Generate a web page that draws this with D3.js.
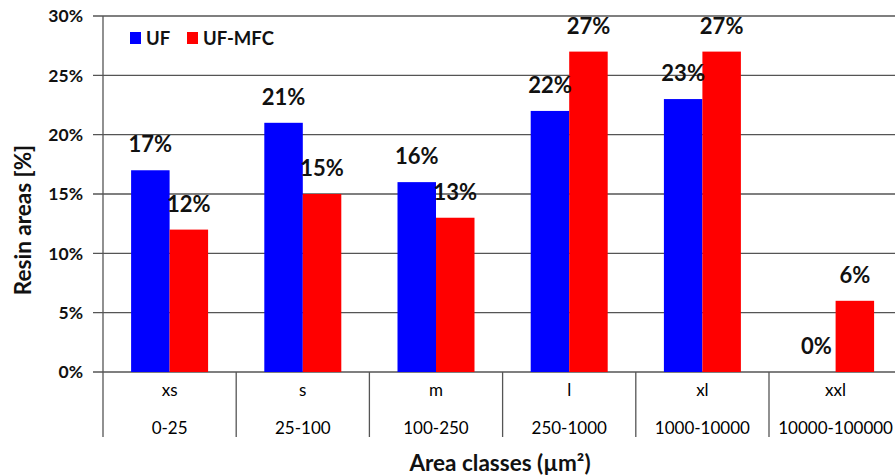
<!DOCTYPE html>
<html>
<head>
<meta charset="utf-8">
<script src="https://cdn.jsdelivr.net/npm/d3@7"></script>
<style>
  html, body { margin: 0; padding: 0; background: #fff; }
  svg { display: block; font-family: Lato, "Open Sans", sans-serif; }
</style>
</head>
<body>
<svg id="chart" width="895" height="476"></svg>
<script>
// Resin area distribution by area class
const classes = ["xs", "s", "m", "l", "xl", "xxl"];
const ranges = ["0-25", "25-100", "100-250", "250-1000", "1000-10000", "10000-100000"];
const seriesNames = ["UF", "UF-MFC"];
const ufValues = [17, 21, 16, 22, 23, 0];
const ufMfcValues = [12, 15, 13, 27, 27, 6];
const yTicks = [0, 5, 10, 15, 20, 25, 30];
const colors = ["#0000ff", "#ff0000"];

const svg = d3.select("#chart");
const plotLeft = 103, plotTop = 16, plotBottom = 372, bandW = 133.2;

const x = d3.scaleBand().domain(classes).range([plotLeft, plotLeft + bandW * classes.length]).paddingInner(0).paddingOuter(0);
const xs = d3.scaleBand().domain(seriesNames).range([0, bandW]).paddingInner(0).paddingOuter(0.73);
const y = d3.scaleLinear().domain([0, 30]).range([plotBottom, plotTop]);

const lineColor = "#555";
const textColor = "#111";

// horizontal gridlines with tick stubs
svg.append("g").selectAll("line").data(yTicks).join("line")
  .attr("x1", plotLeft - 10).attr("x2", 900)
  .attr("y1", d => y(d)).attr("y2", d => y(d))
  .attr("stroke", lineColor).attr("stroke-width", 1.3);

// y tick labels
svg.append("g").selectAll("text").data(yTicks).join("text")
  .attr("x", 83).attr("y", d => y(d))
  .attr("dy", "0.36em")
  .attr("text-anchor", "end")
  .attr("font-weight", "bold").attr("font-size", 17.5).attr("fill", textColor)
  .text(d => d + "%");

// bars
const series = [ufValues, ufMfcValues];
series.forEach((vals, si) => {
  svg.append("g").selectAll("rect").data(classes).join("rect")
    .attr("x", (c) => x(c) + xs(seriesNames[si]))
    .attr("width", xs.bandwidth())
    .attr("y", (c, i) => y(vals[i]))
    .attr("height", (c, i) => y(0) - y(vals[i]))
    .attr("fill", colors[si]);
});

// value labels
series.forEach((vals, si) => {
  svg.append("g").selectAll("text").data(classes).join("text")
    .attr("x", c => x(c) + xs(seriesNames[si]) + xs.bandwidth() / 2)
    .attr("y", (c, i) => y(vals[i]) - 18)
    .attr("text-anchor", "middle")
    .attr("font-weight", "bold").attr("font-size", 22).attr("fill", textColor)
    .text((c, i) => vals[i] + "%");
});

// y axis line and category separators
const seps = d3.range(classes.length + 1).map(i => plotLeft + i * bandW);
svg.append("g").selectAll("line").data(seps).join("line")
  .attr("x1", d => d).attr("x2", d => d)
  .attr("y1", d => d === plotLeft ? plotTop : plotBottom).attr("y2", 437)
  .attr("stroke", lineColor).attr("stroke-width", 1.3);

// category labels: class name and area range
svg.append("g").selectAll("text").data(classes).join("text")
  .attr("x", c => x(c) + bandW / 2).attr("y", 390)
  .attr("dy", "0.36em").attr("text-anchor", "middle")
  .attr("font-size", 17).attr("fill", "#000")
  .text(c => c);
svg.append("g").selectAll("text").data(ranges).join("text")
  .attr("x", (r, i) => x(classes[i]) + bandW / 2).attr("y", 428)
  .attr("dy", "0.36em").attr("text-anchor", "middle")
  .attr("font-size", 17).attr("fill", "#000")
  .text(r => r);

// axis titles
svg.append("text")
  .attr("x", 500).attr("y", 463).attr("dy", "0.36em")
  .attr("text-anchor", "middle")
  .attr("font-weight", "bold").attr("font-size", 22.5).attr("fill", textColor)
  .text("Area classes (µm²)");
svg.append("text")
  .attr("transform", "translate(23,220) rotate(-90)")
  .attr("dy", "0.36em")
  .attr("text-anchor", "middle")
  .attr("font-weight", "bold").attr("font-size", 22.5).attr("fill", textColor)
  .text("Resin areas [%]");

// legend
const legend = svg.append("g").attr("transform", "translate(130,32)");
const legendX = [0, 57];
seriesNames.forEach((name, i) => {
  legend.append("rect").attr("x", legendX[i]).attr("y", 0).attr("width", 11).attr("height", 12).attr("fill", colors[i]);
  legend.append("text").attr("x", legendX[i] + 16).attr("y", 6).attr("dy", "0.36em")
    .attr("font-weight", "bold").attr("font-size", 18.5).attr("fill", textColor)
    .text(name);
});
</script>
</body>
</html>
